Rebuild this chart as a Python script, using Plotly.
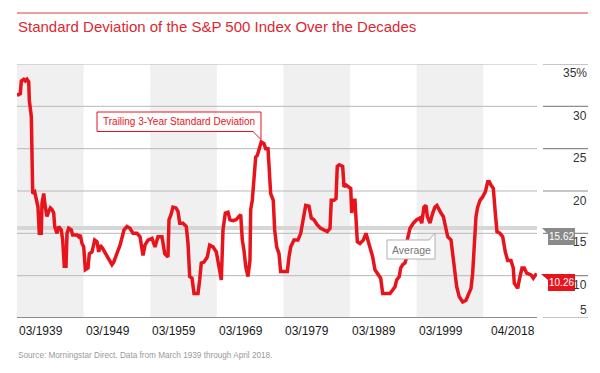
import plotly.graph_objects as go

# ---------------- data ----------------
years = [1939.17, 1939.67, 1939.82, 1940.18, 1940.42, 1940.67, 1940.93, 1941.02, 1941.32, 1941.53,
         1941.83, 1942.02, 1942.32, 1942.52, 1942.82, 1942.92, 1943.18, 1943.42, 1943.67, 1943.93,
         1944.17, 1944.43, 1944.68, 1944.83, 1945.18, 1945.43, 1945.82, 1946.03, 1946.27, 1946.53,
         1946.68, 1946.93, 1947.32, 1947.53, 1948.18, 1948.43, 1948.67, 1948.93, 1949.19, 1949.43,
         1949.83, 1950.03, 1950.43, 1950.84, 1951.18, 1951.44, 1951.68, 1952.04, 1952.34, 1952.68,
         1953.03, 1953.43, 1953.69, 1954.19, 1954.64, 1955.24, 1955.69, 1956.14, 1956.59, 1957.19,
         1957.64, 1958.09, 1958.39, 1958.84, 1959.44, 1959.89, 1960.34, 1960.94, 1961.35, 1961.84,
         1961.99, 1962.29, 1962.59, 1963.04, 1963.34, 1963.60, 1964.09, 1964.59, 1964.85, 1965.10,
         1965.45, 1965.75, 1966.35, 1966.60, 1966.84, 1967.25, 1967.74, 1968.10, 1968.60, 1969.10,
         1969.61, 1969.85, 1970.10, 1970.45, 1970.85, 1971.15, 1971.60, 1972.05, 1972.50, 1972.76,
         1973.00, 1973.25, 1973.51, 1973.85, 1974.15, 1974.26, 1974.50, 1974.76, 1975.01, 1975.25,
         1975.51, 1975.85, 1976.26, 1976.51, 1976.86, 1977.11, 1977.26, 1977.65, 1977.86, 1978.16,
         1978.51, 1978.76, 1979.76, 1980.01, 1980.27, 1980.76, 1981.36, 1981.77, 1982.16, 1982.52,
         1983.01, 1983.36, 1983.76, 1984.26, 1984.77, 1985.27, 1985.76, 1986.17, 1986.36, 1986.77,
         1987.07, 1987.26, 1987.56, 1988.07, 1988.27, 1988.57, 1988.91, 1989.28, 1989.43, 1989.67,
         1989.92, 1990.07, 1990.27, 1990.67, 1991.17, 1991.57, 1991.92, 1992.28, 1992.58, 1992.92,
         1993.42, 1993.78, 1994.08, 1994.68, 1995.18, 1995.58, 1995.93, 1996.18, 1996.57, 1996.78,
         1997.08, 1997.43, 1997.68, 1997.77, 1998.18, 1998.68, 1999.19, 1999.68, 1999.94, 2000.28,
         2000.58, 2000.78, 2001.18, 2001.59, 2001.93, 2002.23, 2002.49, 2002.83, 2003.18, 2003.48,
         2003.84, 2004.34, 2004.59, 2004.83, 2005.19, 2005.58, 2006.09, 2006.59, 2006.99, 2007.34,
         2007.59, 2007.84, 2008.09, 2008.34, 2008.69, 2009.09, 2009.49, 2009.85, 2010.09, 2010.34,
         2010.69, 2010.99, 2011.24, 2011.69, 2012.10, 2012.49, 2012.85, 2013.34, 2013.69, 2013.84,
         2014.09, 2014.35, 2014.59, 2015.00, 2015.34, 2015.70, 2016.35, 2016.69, 2017.17]

std_dev = [31.3, 31.5, 33.0, 33.2, 33.0, 33.2, 32.9, 30.7, 28.8, 19.7,
           19.9, 19.3, 18.1, 15.0, 15.0, 18.5, 19.7, 18.1, 17.0, 17.6,
           18.0, 17.8, 17.4, 15.8, 15.0, 15.8, 15.4, 14.2, 11.1, 11.1,
           15.0, 15.6, 15.4, 14.8, 14.8, 14.6, 14.8, 13.8, 13.4, 10.7,
           10.9, 12.6, 12.8, 14.2, 14.0, 12.8, 13.6, 13.2, 12.8, 12.2,
           11.8, 11.3, 11.6, 12.6, 13.6, 15.4, 15.8, 15.6, 15.0, 15.0,
           14.6, 12.4, 13.6, 14.2, 14.4, 13.4, 14.6, 14.6, 12.6, 12.2,
           16.6, 17.2, 18.1, 18.0, 17.6, 16.2, 16.2, 15.8, 13.8, 9.9,
           9.7, 7.9, 7.9, 9.5, 11.5, 11.6, 12.2, 13.6, 13.4, 12.8,
           10.3, 9.5, 15.4, 17.4, 17.5, 16.6, 16.5, 16.6, 17.0, 17.2,
           14.2, 13.0, 11.1, 9.9, 11.8, 17.8, 18.9, 22.1, 24.0, 24.2,
           24.8, 25.8, 25.6, 25.0, 25.0, 22.5, 19.7, 18.9, 15.4, 13.4,
           12.6, 10.5, 10.5, 12.2, 13.4, 14.2, 14.2, 15.0, 17.0, 18.3,
           18.2, 16.8, 16.6, 16.0, 15.6, 15.4, 15.2, 15.6, 18.9, 18.9,
           19.1, 22.9, 23.1, 22.9, 20.5, 20.7, 20.5, 20.3, 17.4, 18.9,
           18.9, 17.0, 14.0, 13.8, 14.2, 15.0, 14.0, 13.0, 12.2, 10.7,
           10.1, 9.7, 7.9, 7.9, 7.9, 8.3, 8.7, 9.5, 9.9, 10.9,
           11.3, 11.5, 12.2, 14.2, 15.6, 16.2, 16.6, 16.8, 16.2, 18.1,
           18.3, 17.0, 16.2, 17.4, 18.1, 18.3, 17.8, 17.4, 17.0, 15.8,
           14.6, 14.2, 12.6, 10.3, 8.7, 7.5, 6.9, 7.1, 7.9, 8.5,
           10.3, 14.2, 17.0, 18.1, 18.9, 19.3, 19.9, 21.1, 21.1, 20.7,
           20.3, 17.4, 15.2, 15.0, 14.6, 12.8, 11.8, 11.8, 10.9, 9.1,
           8.7, 8.5, 9.5, 10.9, 10.9, 10.3, 10.1, 9.7, 10.26]

average_value = 15.62
latest_value = 10.26
y_ticks = [5, 10, 15, 20, 25, 30, 35]
y_tick_text = ["5", "10", "15", "20", "25", "30", "35%"]
decade_starts = [1939.17, 1949.17, 1959.17, 1969.17, 1979.17, 1989.17, 1999.17]
decade_labels = ["03/1939", "03/1949", "03/1959", "03/1969", "03/1979", "03/1989", "03/1999"]
end_label = "04/2018"
x_start, x_end = 1939.17, 2017.25

title_text = "Standard Deviation of the S&P 500 Index Over the Decades"
source_text = "Source: Morningstar Direct. Data from March 1939 through April 2018."
series_label = "Trailing 3-Year Standard Deviation"
average_label = "Average"

# ---------------- layout helpers ----------------
W, H = 600, 373
L, R, T, B = 17, 63, 64, 55
PW, PH = W - L - R, H - T - B
FONT = "Liberation Sans, Arial, sans-serif"
RED = "#e8141c"


def px(x):
    return (x - L) / PW


def py(y):
    return (H - B - y) / PH


def path(points):
    return "M " + " L ".join(f"{px(a):.5f},{py(b):.5f}" for a, b in points) + " Z"


fig = go.Figure()
fig.add_trace(go.Scatter(x=years, y=std_dev, mode="lines",
                         line=dict(color=RED, width=3.5), hoverinfo="skip"))

shapes = []
# decade bands
for i, d in enumerate(decade_starts):
    if i % 2 == 0:
        shapes.append(dict(type="rect", xref="x", yref="paper", x0=d, x1=min(d + 10, x_end),
                           y0=0, y1=1, fillcolor="#f0f0f0", line=dict(width=0), layer="below"))
# grid lines + right-hand tick segments
for v in y_ticks:
    if v == 5:
        col, wd = "#8c8c8c", 2
    else:
        col, wd = "#b8b8b8", 1
    shapes.append(dict(type="line", xref="paper", yref="y", x0=0, x1=1, y0=v, y1=v,
                       line=dict(color=col, width=wd), layer="below"))
    shapes.append(dict(type="line", xref="paper", yref="y", x0=px(543), x1=px(588), y0=v, y1=v,
                       line=dict(color="#8c8c8c", width=1.2), layer="below"))
# average line
shapes.append(dict(type="line", xref="paper", yref="y", x0=0, x1=1, y0=average_value, y1=average_value,
                   line=dict(color="#d6d6d6", width=4), layer="below"))
# title rule
shapes.append(dict(type="line", xref="paper", yref="paper", x0=px(17), x1=px(588), y0=py(13), y1=py(13),
                   line=dict(color="#e03a40", width=1)))
# callouts
shapes.append(dict(type="path", xref="paper", yref="paper",
                   path=path([(97, 112), (261, 112), (261, 139.5), (253, 131.5), (97, 131.5)]),
                   fillcolor="white", line=dict(color=RED, width=1), layer="above"))
shapes.append(dict(type="path", xref="paper", yref="paper",
                   path=path([(387, 240), (429, 240), (435, 233), (435, 259), (387, 259)]),
                   fillcolor="white", line=dict(color="#b0b0b0", width=1), layer="above"))
# value tags
shapes.append(dict(type="path", xref="paper", yref="paper",
                   path=path([(542, 228), (575, 228), (575, 245), (548, 245), (548, 234)]),
                   fillcolor="#8a8a8a", line=dict(width=0), layer="above"))
shapes.append(dict(type="path", xref="paper", yref="paper",
                   path=path([(541, 274), (575, 274), (575, 291), (548, 291), (548, 280)]),
                   fillcolor=RED, line=dict(width=0), layer="above"))

ann = []
ann.append(dict(text=title_text, xref="paper", yref="paper", x=px(16), y=py(26.5),
                xanchor="left", yanchor="middle", showarrow=False,
                font=dict(family=FONT, size=15, color="#dc2832")))
for d, lab in zip(decade_starts, decade_labels):
    ann.append(dict(text=lab, xref="x", yref="paper", x=d, y=py(331), xanchor="left",
                    yanchor="middle", showarrow=False, font=dict(family=FONT, size=12, color="#1a1a1a")))
ann.append(dict(text=end_label, xref="x", yref="paper", x=x_end, y=py(331), xanchor="right",
                yanchor="middle", showarrow=False, font=dict(family=FONT, size=12, color="#1a1a1a")))
label_y = {5: 310, 10: 285, 15: 242, 20: 201, 25: 158, 30: 116, 35: 73}
for v, t in zip(y_ticks, y_tick_text):
    ann.append(dict(text=t, xref="paper", yref="paper", x=px(589), y=py(label_y[v]), xanchor="right",
                    yanchor="middle", showarrow=False, font=dict(family=FONT, size=12, color="#333")))
ann.append(dict(text=source_text, xref="paper", yref="paper", x=px(16), y=py(355), xanchor="left",
                yanchor="middle", showarrow=False, font=dict(family=FONT, size=8.2, color="#999")))
ann.append(dict(text=series_label, xref="paper", yref="paper", x=px(179), y=py(121.8), xanchor="center",
                yanchor="middle", showarrow=False, font=dict(family=FONT, size=10, color=RED)))
ann.append(dict(text=average_label, xref="paper", yref="paper", x=px(411), y=py(249.5), xanchor="center",
                yanchor="middle", showarrow=False, font=dict(family=FONT, size=10.5, color="#777")))
ann.append(dict(text=f"{average_value:.2f}", xref="paper", yref="paper", x=px(561.5), y=py(236.5),
                xanchor="center", yanchor="middle", showarrow=False,
                font=dict(family=FONT, size=10, color="white")))
ann.append(dict(text=f"{latest_value:.2f}", xref="paper", yref="paper", x=px(561.5), y=py(282.5),
                xanchor="center", yanchor="middle", showarrow=False,
                font=dict(family=FONT, size=10, color="white")))

fig.update_layout(
    width=W, height=H, margin=dict(l=L, r=R, t=T, b=B, pad=0),
    paper_bgcolor="white", plot_bgcolor="white", showlegend=False,
    xaxis=dict(range=[x_start, x_end], visible=False, fixedrange=True),
    yaxis=dict(range=[5, 35], visible=False, fixedrange=True),
    shapes=shapes, annotations=ann,
)

fig.write_html("out.html", config={"displayModeBar": False},
               post_script="document.body.style.margin='0';document.body.style.overflow='hidden';")
